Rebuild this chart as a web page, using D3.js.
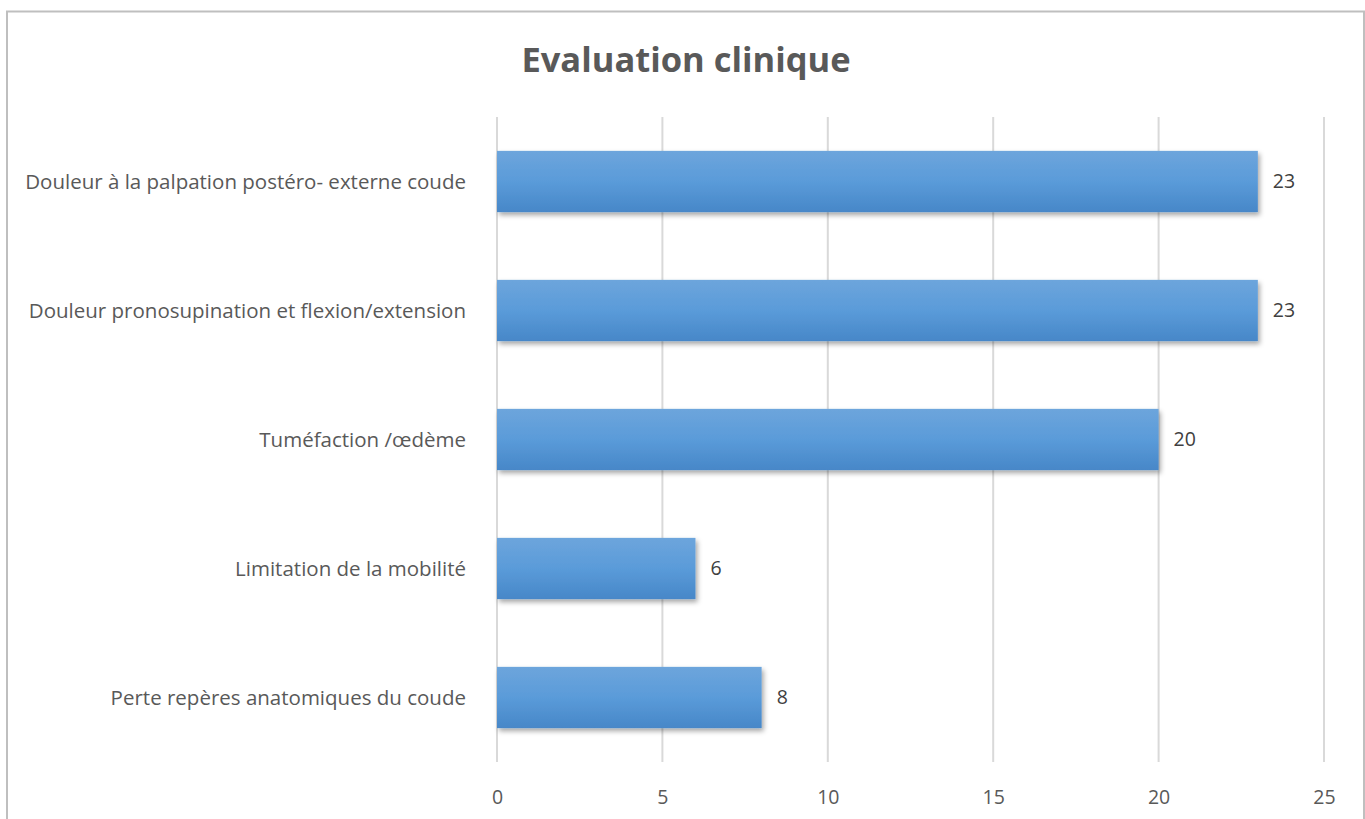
<!DOCTYPE html>
<html><head><meta charset="utf-8">
<script src="https://cdn.jsdelivr.net/npm/d3@7"></script>
<style>html,body{margin:0;padding:0;background:#fff;}svg{display:block;}</style>
</head><body>
<svg id="chart" width="1365" height="819"></svg>
<script>
const categories = [
  "Douleur à la palpation postéro- externe coude",
  "Douleur pronosupination et flexion/extension",
  "Tuméfaction /œdème",
  "Limitation de la mobilité",
  "Perte repères anatomiques du coude"
];
const values = [23, 23, 20, 6, 8];
const xTicks = [0, 5, 10, 15, 20, 25];
const title = "Evaluation clinique";

const svg = d3.select("#chart");
const font = "'Open Sans', 'Liberation Sans', sans-serif";
const fs = 19.5;

const defs = svg.append("defs");
const grad = defs.append("linearGradient").attr("id","barGrad").attr("x1",0).attr("y1",0).attr("x2",0).attr("y2",1);
grad.append("stop").attr("offset","0%").attr("stop-color","#6da5dc");
grad.append("stop").attr("offset","50%").attr("stop-color","#5a9bd9");
grad.append("stop").attr("offset","100%").attr("stop-color","#4787c8");
const filt = defs.append("filter").attr("id","shadow").attr("x","-5%").attr("y","-20%").attr("width","115%").attr("height","160%");
filt.append("feDropShadow").attr("dx",2).attr("dy",3).attr("stdDeviation",2.5).attr("flood-color","#000").attr("flood-opacity",0.35);

// chart border
svg.append("rect").attr("x",7).attr("y",11.5).attr("width",1357).attr("height",830)
  .attr("fill","#fff").attr("stroke","#bfbfbf").attr("stroke-width",2);

const x = d3.scaleLinear().domain([0,25]).range([497,1324]);
const y = d3.scaleBand().domain(categories).range([117,762]).paddingInner(0.525).paddingOuter(0.2625);

// gridlines
svg.append("g").selectAll("line").data(xTicks).join("line")
  .attr("x1",d=>x(d)).attr("x2",d=>x(d)).attr("y1",117).attr("y2",762)
  .attr("stroke","#d9d9d9").attr("stroke-width",2);

// x axis labels
const xAxis = d3.axisBottom(x).tickValues(xTicks).tickSize(0).tickPadding(0);
const gx = svg.append("g").attr("transform","translate(0,762)").call(xAxis);
gx.select(".domain").remove();
gx.selectAll("text").attr("y",42).attr("dy","0").attr("font-family",font).attr("font-size",fs).attr("fill","#595959");

// y axis labels
const yAxis = d3.axisLeft(y).tickSize(0).tickPadding(0);
const gy = svg.append("g").attr("transform","translate(466,0)").call(yAxis);
gy.select(".domain").remove();
gy.selectAll("text").attr("font-family",font).attr("font-size",20.5).attr("fill","#595959").attr("dy","0.35em");

// bars
svg.append("g").selectAll("rect").data(values).join("rect")
  .attr("x",x(0)).attr("y",(d,i)=>y(categories[i]))
  .attr("width",d=>x(d)-x(0)).attr("height",y.bandwidth())
  .attr("fill","url(#barGrad)").attr("filter","url(#shadow)");

// value labels
svg.append("g").selectAll("text").data(values).join("text")
  .attr("x",d=>x(d)+15).attr("y",(d,i)=>y(categories[i])+y.bandwidth()/2)
  .attr("dy","0.35em").attr("font-family",font).attr("font-size",fs).attr("fill","#404040")
  .text(d=>d);

// title
svg.append("text").attr("x",686).attr("y",72).attr("text-anchor","middle")
  .attr("font-family",font).attr("font-weight","bold").attr("font-size",34.5).attr("fill","#595959")
  .text(title);
</script>
</body></html>
